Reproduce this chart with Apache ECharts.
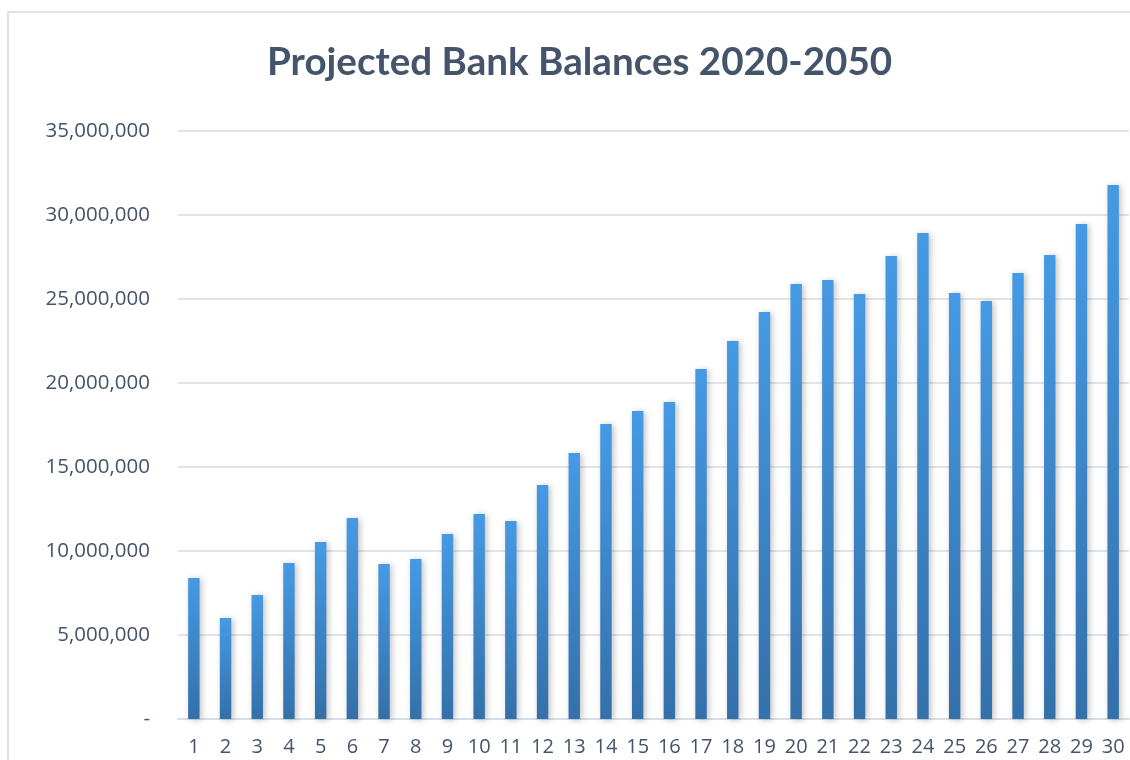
<!DOCTYPE html>
<html><head><meta charset="utf-8">
<script src="https://cdn.jsdelivr.net/npm/echarts@6/dist/echarts.min.js"></script>
<style>html,body{margin:0;padding:0;background:#fff;overflow:hidden}#c{width:1130px;height:760px}</style>
</head><body><div id="c"></div>
<script>
const title = 'Projected Bank Balances 2020-2050';
const categories = ['1','2','3','4','5','6','7','8','9','10','11','12','13','14','15','16','17','18','19','20','21','22','23','24','25','26','27','28','29','30'];
const balances = [8390000,6010000,7380000,9290000,10540000,11960000,9230000,9520000,11010000,12200000,11790000,13930000,15830000,17560000,18330000,18870000,20830000,22500000,24230000,25890000,26130000,25300000,27560000,28930000,25360000,24880000,26550000,27620000,29460000,31790000];
const yTicks = {min:0, max:35000000, interval:5000000};

const chart = echarts.init(document.getElementById('c'), null, {renderer:'canvas'});
const fmt = v => v === 0 ? '-' : v.toLocaleString('en-US');
chart.setOption({
  animation:false,
  backgroundColor:'#fff',
  graphic:[{type:'rect', shape:{x:8,y:12,width:1200,height:800}, style:{fill:'none', stroke:'#dde3ea', lineWidth:2}, silent:true}],
  title:{text:title, left:262, top:38, textStyle:{fontFamily:'Lato', fontWeight:'bold', fontSize:38.6, color:'#44546A'}},
  grid:{left:178, right:1, top:131, bottom:41, containLabel:false},
  xAxis:{type:'category', data:categories,
    axisLine:{show:true, lineStyle:{color:'#d9dee5', width:2}},
    axisTick:{show:false},
    axisLabel:{fontFamily:'Open Sans', fontSize:20, color:'#44546A', margin:18}},
  yAxis:{type:'value', min:yTicks.min, max:yTicks.max, interval:yTicks.interval,
    axisLine:{show:false}, axisTick:{show:false},
    splitLine:{lineStyle:{color:'#e1e5ea', width:2}},
    axisLabel:{formatter:fmt, fontFamily:'Open Sans', fontSize:20.5, color:'#44546A', margin:28}},
  series:[{type:'bar', data:balances, barWidth:'36%',
    itemStyle:{color:new echarts.graphic.LinearGradient(0,0,0,1,[{offset:0,color:'#459ae4'},{offset:1,color:'#3470a9'}]),
      shadowColor:'rgba(0,0,0,0.25)', shadowBlur:6, shadowOffsetX:2, shadowOffsetY:1}}]
});
</script></body></html>
